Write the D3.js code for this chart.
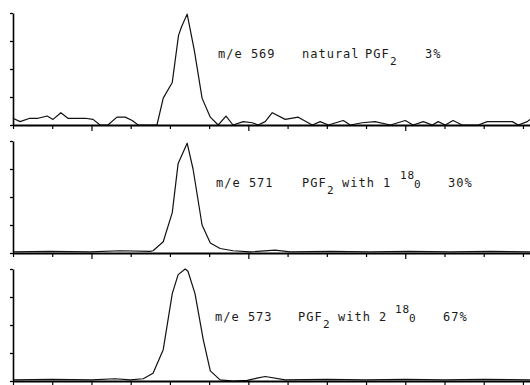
<!DOCTYPE html>
<html>
<head>
<meta charset="utf-8">
<script src="https://cdn.jsdelivr.net/npm/d3@7"></script>
<style>
  body { margin: 0; background: #fff; }
  svg { display: block; }
  .lbl { font-family: "DejaVu Sans Mono", monospace; font-size: 12px; letter-spacing: 1px; fill: #1a1a1a; }
  .axis path, .axis line { stroke: #000; }
</style>
</head>
<body>
<div id="chart"></div>
<script>
// scan position (tick units) vs relative intensity (%)
const scanTicks = d3.range(0, 14);
const intensityTicks = [0, 25, 50, 75, 100];

const ion569 = [
  [0, 6], [0.18, 3], [0.43, 6], [0.64, 6], [0.87, 8], [1.02, 5], [1.22, 11], [1.4, 6],
  [1.84, 6], [2.04, 5], [2.22, 0], [2.42, 0], [2.65, 7], [2.86, 7], [3.04, 4], [3.19, 0],
  [3.67, 0], [3.83, 24], [4.06, 38], [4.22, 80], [4.3, 88], [4.44, 99], [4.62, 67], [4.82, 24],
  [5.03, 7], [5.23, 0], [5.43, 8], [5.61, 0], [5.87, 3], [6.1, 2], [6.25, 0], [6.43, 3],
  [6.61, 11], [6.94, 5], [7.27, 7], [7.63, 0], [7.83, 3], [8.04, 0], [8.42, 4], [8.6, 0],
  [8.9, 2], [9.23, 3], [9.62, 0], [10.0, 4], [10.2, 0], [10.46, 3], [10.69, 0], [10.84, 3],
  [11.02, 0], [11.22, 4], [11.45, 0], [11.86, 0], [12.09, 3], [12.37, 3], [12.73, 3],
  [12.88, 0], [13.11, 3], [13.18, 5]
];

const ion571 = [
  [0, 1], [0.94, 1.5], [1.96, 1], [2.73, 2], [3.49, 1.5], [3.57, 2], [3.83, 10], [4.06, 36],
  [4.21, 80], [4.44, 98], [4.59, 75], [4.82, 25], [5.03, 9], [5.28, 4], [5.61, 2], [6.05, 1],
  [6.68, 2.5], [7.07, 1], [8.09, 1.5], [9.1, 1], [10.1, 1.5], [11.15, 1], [12.17, 1.5], [13.18, 1]
];

const ion573 = [
  [0, 1], [1, 1.5], [2, 1], [2.6, 2], [3.0, 1], [3.32, 2], [3.57, 7], [3.83, 28], [4.06, 78],
  [4.21, 95], [4.39, 100], [4.46, 98], [4.64, 78], [4.85, 37], [5.03, 9], [5.28, 1],
  [5.61, 0], [5.97, 0.5], [6.22, 2.5], [6.43, 4], [6.94, 1], [8, 1.5], [9, 1], [10, 1.5],
  [11, 1], [12, 1.5], [13.18, 1]
];

const label569 = [
  { t: "m/e 569" }, { t: "natural" }, { t: "PGF" }, { t: "2", shift: 7 }, { t: "3%" }
];
const label571 = [
  { t: "m/e 571" }, { t: "PGF" }, { t: "2", shift: 7 }, { t: "with 1" },
  { t: "18", shift: -8 }, { t: "0", shift: 1 }, { t: "30%" }
];
const label573 = [
  { t: "m/e 573" }, { t: "PGF" }, { t: "2", shift: 7 }, { t: "with 2" },
  { t: "18", shift: -8 }, { t: "0", shift: 1 }, { t: "67%" }
];

const W = 530, H = 385;
const svg = d3.select("#chart").append("svg")
  .attr("width", W).attr("height", H);

const x = d3.scaleLinear().domain([0, 13.18]).range([13, 530]);

// each panel: baseline y and height of the 0..100 range
const panels = [
  { data: ion569, base: 125, label: label569, lx: [218, 302, 365, 390, 425], ly: 58 },
  { data: ion571, base: 253, label: label571, lx: [216, 302, 327, 342, 400, 414, 448], ly: 187 },
  { data: ion573, base: 381, label: label573, lx: [215, 298, 323, 338, 395, 409, 443], ly: 321 }
];

panels.forEach(function (p) {
  const y = d3.scaleLinear().domain([0, 100]).range([p.base, p.base - 112]);
  const g = svg.append("g");

  // trace
  g.append("path")
    .datum(p.data)
    .attr("d", d3.line().x(d => x(d[0])).y(d => y(d[1])))
    .attr("fill", "none")
    .attr("stroke", "#111")
    .attr("stroke-width", 1.2)
    .attr("stroke-linejoin", "round");

  // left axis
  g.append("g")
    .attr("class", "axis")
    .attr("transform", `translate(${x(0)},0)`)
    .call(d3.axisLeft(y).tickValues(intensityTicks).tickSize(3).tickSizeOuter(0).tickFormat(""))
    .call(a => a.select(".domain").attr("stroke-width", 1.6))
    .call(a => a.selectAll(".tick line").attr("stroke-width", 1.3));

  // baseline
  g.append("g")
    .attr("class", "axis")
    .attr("transform", `translate(0,${p.base})`)
    .call(d3.axisBottom(x).tickValues(scanTicks).tickSize(4).tickSizeOuter(0).tickFormat(""))
    .call(a => a.select(".domain").attr("stroke-width", 2))
    .call(a => a.selectAll(".tick line")
      .attr("stroke-width", 1.2)
      .attr("y2", d => (d % 4 === 2 ? 6 : 4)));

  // annotation
  const txt = g.append("text").attr("class", "lbl").attr("y", p.ly);
  p.label.forEach(function (piece, i) {
    txt.append("tspan")
      .attr("x", p.lx[i])
      .attr("y", p.ly + (piece.shift || 0))
      .style("font-size", piece.shift ? "11px" : null)
      .text(piece.t);
  });
});
</script>
</body>
</html>
